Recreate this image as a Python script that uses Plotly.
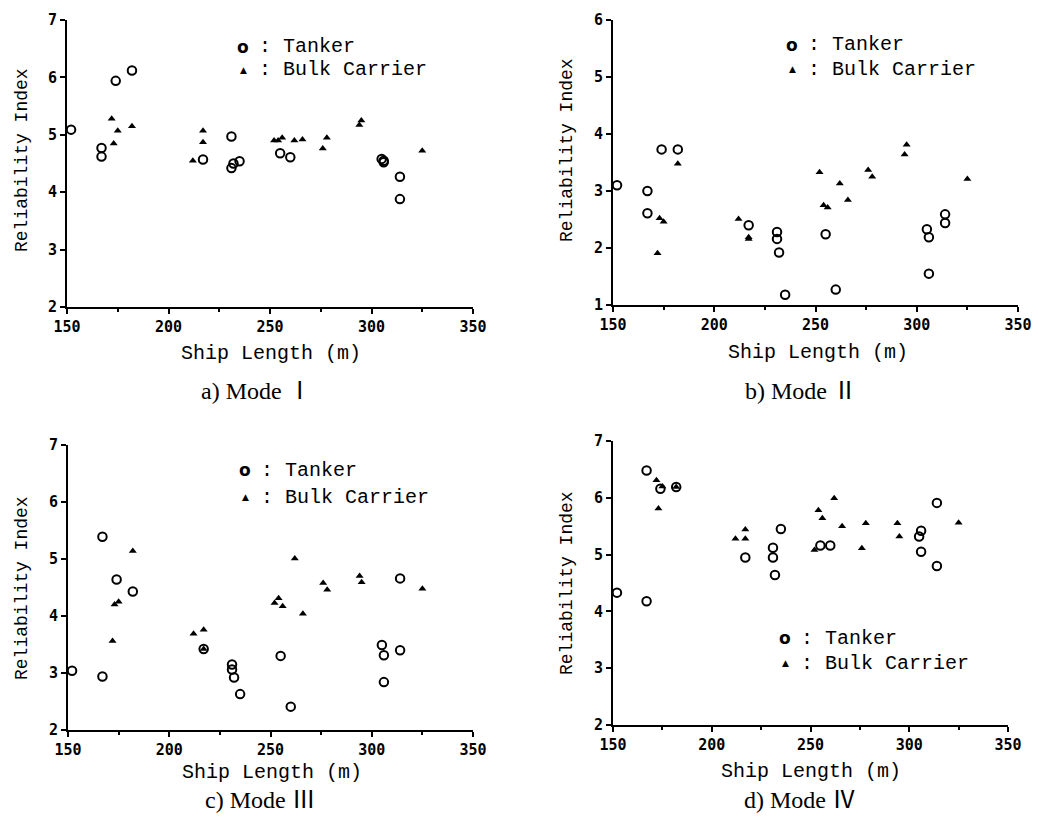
import plotly.graph_objects as go

# ---------------- data ----------------
tanker_length = [152, 167, 167, 174, 182, 217, 231, 231, 232, 235, 255, 260, 305, 306, 306, 314, 314]
bulk_length = [172, 173, 175, 182, 212, 217, 217, 252, 254, 256, 262, 266, 276, 278, 294, 295, 325]

tanker_mode1 = [5.09, 4.77, 4.62, 5.94, 6.12, 4.57, 4.97, 4.42, 4.50, 4.54, 4.68, 4.61, 4.58, 4.55, 4.52, 4.27, 3.88]
bulk_mode1 = [5.28, 4.85, 5.07, 5.15, 4.55, 5.07, 4.87, 4.90, 4.90, 4.95, 4.90, 4.92, 4.76, 4.95, 5.17, 5.25, 4.72]

tanker_mode2 = [3.10, 3.00, 2.61, 3.73, 3.73, 2.40, 2.28, 2.16, 1.92, 1.18, 2.24, 1.27, 2.33, 2.19, 1.55, 2.59, 2.44]
bulk_mode2 = [1.91, 2.52, 2.46, 3.48, 2.51, 2.16, 2.19, 3.33, 2.75, 2.71, 3.13, 2.84, 3.37, 3.25, 3.64, 3.81, 3.21]

tanker_mode3 = [3.04, 2.94, 5.39, 4.64, 4.43, 3.42, 3.15, 3.06, 2.92, 2.63, 3.30, 2.41, 3.49, 3.31, 2.84, 4.66, 3.40]
bulk_mode3 = [3.56, 4.20, 4.25, 5.14, 3.69, 3.76, 3.42, 4.23, 4.31, 4.17, 5.01, 4.04, 4.58, 4.46, 4.70, 4.59, 4.48]

tanker_mode4 = [4.33, 6.48, 4.18, 6.16, 6.19, 4.95, 5.12, 4.95, 4.64, 5.45, 5.16, 5.16, 5.32, 5.42, 5.05, 5.91, 4.80]
bulk_mode4 = [6.31, 5.81, 6.20, 6.19, 5.28, 5.44, 5.28, 5.08, 5.78, 5.64, 5.99, 5.50, 5.11, 5.55, 5.55, 5.32, 5.56]

x_ticks = [150, 200, 250, 300, 350]
captions = ["a) Mode Ⅰ", "b) Mode Ⅱ", "c) Mode Ⅲ", "d) Mode Ⅳ"]
y_ranges = [[2, 7], [1, 6], [2, 7], [2, 7]]

# ---------------- layout helpers ----------------
W, H = 1038, 823
def px(x):
    return x / W
def py(y):
    return 1 - y / H

domains = [
    ([67, 473], [307, 20]),
    ([613, 1018], [305, 20]),
    ([68, 473], [730, 445]),
    ([613, 1008], [725, 441]),
]

fig = go.Figure()
tanker_sets = [tanker_mode1, tanker_mode2, tanker_mode3, tanker_mode4]
bulk_sets = [bulk_mode1, bulk_mode2, bulk_mode3, bulk_mode4]

for i in range(4):
    xa = "x" if i == 0 else f"x{i+1}"
    ya = "y" if i == 0 else f"y{i+1}"
    fig.add_trace(go.Scatter(
        x=tanker_length, y=tanker_sets[i], mode="markers", xaxis=xa, yaxis=ya,
        marker=dict(symbol="circle-open", size=8.5, color="black", line=dict(width=2, color="black")),
        showlegend=False, cliponaxis=False))
    fig.add_trace(go.Scatter(
        x=bulk_length, y=bulk_sets[i], mode="markers", xaxis=xa, yaxis=ya,
        marker=dict(symbol="triangle-up", size=7, color="black"),
        showlegend=False, cliponaxis=False))

tick_font = dict(family="DejaVu Sans Mono", size=15, color="black", weight="bold")
layout = {}
for i, (xd, yd) in enumerate(domains):
    sfx = "" if i == 0 else str(i + 1)
    anchor_x = "y" + sfx
    anchor_y = "x" + sfx
    layout["xaxis" + sfx] = dict(
        domain=[px(xd[0]), px(xd[1])], anchor=anchor_x, range=[150, 350], automargin=False,
        tickvals=x_ticks, ticks="outside", ticklen=5, tickwidth=1.5, tickcolor="black",
        showline=True, linecolor="black", linewidth=2, showgrid=False, zeroline=False,
        tickfont=tick_font, ticklabeloverflow="allow",
        minor=dict(dtick=25, tick0=150, ticks="outside", ticklen=3, tickcolor="black", showgrid=False),
    )
    layout["yaxis" + sfx] = dict(
        domain=[py(yd[0]), py(yd[1])], anchor=anchor_y, range=y_ranges[i], dtick=1, automargin=False,
        ticks="outside", ticklen=5, tickwidth=1.5, tickcolor="black",
        showline=True, linecolor="black", linewidth=2, showgrid=False, zeroline=False,
        tickfont=tick_font,
    )

fig.update_layout(
    template="none",
    width=W, height=H, margin=dict(l=0, r=0, t=0, b=0, pad=0),
    paper_bgcolor="white", plot_bgcolor="white", showlegend=False, **layout)

xtitle_font = dict(family="Liberation Mono", size=20, color="black")
ytitle_font = dict(family="Liberation Mono", size=18, color="black")
legend_font = dict(family="Liberation Mono", size=20, color="black")
cap_font = dict(family="Liberation Serif, Noto Sans CJK KR", size=24, color="black")

ann = []
# x-axis titles
for cx, cy in [(271, 353), (818, 352), (272, 772), (811, 771)]:
    ann.append(dict(x=px(cx), y=py(cy), xref="paper", yref="paper", text="Ship Length (m)",
                    showarrow=False, font=xtitle_font, xanchor="center", yanchor="middle"))
# y-axis titles
for cx, cy in [(22, 160), (567, 150), (22, 588), (567, 583)]:
    ann.append(dict(x=px(cx), y=py(cy), xref="paper", yref="paper", text="Reliability Index",
                    textangle=-90, showarrow=False, font=ytitle_font, xanchor="center", yanchor="middle"))
# captions
for (cx, cy), txt in zip([(256, 391), (801, 391), (260, 800), (800, 800)], captions):
    ann.append(dict(x=px(cx), y=py(cy), xref="paper", yref="paper", text=txt,
                    showarrow=False, font=cap_font, xanchor="center", yanchor="middle"))
# in-plot keys
for sx, ty, by in [(243, 47, 70), (792, 45, 69), (245, 470, 497), (785, 638, 663)]:
    ann.append(dict(x=px(sx), y=py(ty), xref="paper", yref="paper", text="o",
                    showarrow=False, font=dict(family="DejaVu Sans", size=17, color="black", weight="bold"),
                    xanchor="center", yanchor="middle"))
    ann.append(dict(x=px(sx), y=py(by), xref="paper", yref="paper", text="▲",
                    showarrow=False, font=dict(family="DejaVu Sans", size=9, color="black"),
                    xanchor="center", yanchor="middle"))
    ann.append(dict(x=px(sx + 14), y=py(ty), xref="paper", yref="paper", text=": Tanker",
                    showarrow=False, font=legend_font, xanchor="left", yanchor="middle"))
    ann.append(dict(x=px(sx + 14), y=py(by), xref="paper", yref="paper", text=": Bulk Carrier",
                    showarrow=False, font=legend_font, xanchor="left", yanchor="middle"))

fig.update_layout(annotations=ann)
fig.write_html("out.html", config={"displayModeBar": False},
               post_script="document.body.style.margin='0';")
